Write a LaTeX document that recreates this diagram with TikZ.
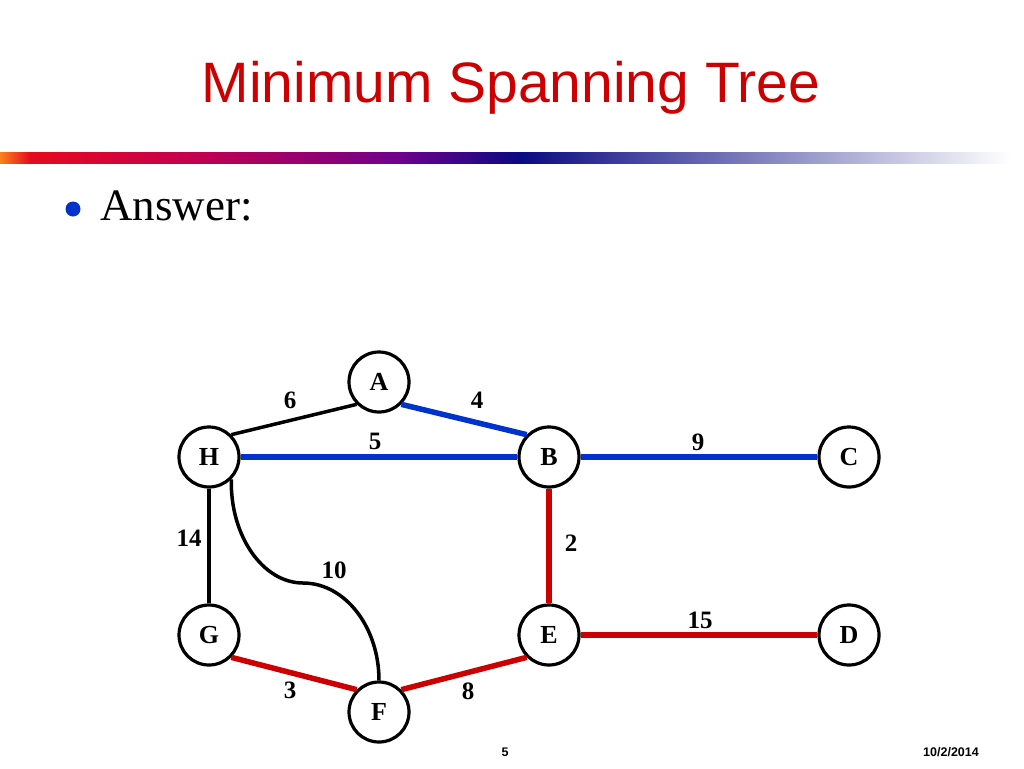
\documentclass[tikz,border=0pt]{standalone}
\usepackage{fontspec}
\setmainfont{Liberation Serif}
\newfontfamily\titlefont{Liberation Sans}
\definecolor{mstred}{RGB}{204,0,0}
\definecolor{mstblue}{RGB}{0,51,204}
\definecolor{barorange}{RGB}{250,130,30}
\definecolor{barred}{RGB}{230,10,30}
\definecolor{barcrimson}{RGB}{200,0,75}
\definecolor{barpurple}{RGB}{110,0,140}
\definecolor{barnavy}{RGB}{10,10,130}
\tikzset{
  vertex/.style={circle,draw,line width=3.2pt,minimum size=60pt,inner sep=0pt,font=\fontsize{26}{26}\selectfont\bfseries},
  weight/.style={inner sep=0pt,font=\fontsize{25}{25}\selectfont\bfseries},
  plain/.style={black,line width=3.5pt},
  treeblue/.style={mstblue,line width=5.5pt},
  treered/.style={mstred,line width=5.5pt}
}
\begin{document}
\begin{tikzpicture}[x=1pt,y=-1pt]
    \fill[white] (0,0) rectangle (1024,768);
    \useasboundingbox (0,0) rectangle (1024,768);
    % title and bar
    \node[anchor=base,inner sep=0pt,text=mstred,font=\titlefont\fontsize{57}{60}\selectfont] (title) at (511,102) {Minimum Spanning Tree};
    \shade[left color=barorange,right color=barred] (0,152) rectangle (30,163);
    \shade[left color=barred,right color=barcrimson] (30,152) rectangle (180,163);
    \shade[left color=barcrimson,right color=barpurple] (180,152) rectangle (400,163);
    \shade[left color=barpurple,right color=barnavy] (400,152) rectangle (520,163);
    \shade[left color=barnavy,right color=white] (520,152) rectangle (1010,163);
    % bullet
    \fill[mstblue] (73,209) circle (7.5pt);
    \node[anchor=base west,inner sep=0pt,font=\fontsize{45}{50}\selectfont] (answer) at (100,220) {Answer:};
    % vertices
    \node[vertex] (A) at (379,382) {A};
    \node[vertex] (H) at (209,457) {H};
    \node[vertex] (B) at (549,457) {B};
    \node[vertex] (C) at (849,457) {C};
    \node[vertex] (G) at (209,635) {G};
    \node[vertex] (E) at (549,635) {E};
    \node[vertex] (D) at (849,635) {D};
    \node[vertex] (F) at (379,712) {F};
    \coordinate (bend) at (303,583);
    % edges
    \draw[plain] (H.north east) -- (A.south west);
    \draw[plain] (H.south) -- (G.north);
    \draw[plain] (H.south east) .. controls (230,536) and (263,583) .. (bend)
                 .. controls (345,583) and (379,627) .. (F.north);
    \draw[treeblue] (A.south east) -- (B.north west);
    \draw[treeblue] (H.east) -- (B.west);
    \draw[treeblue] (B.east) -- (C.west);
    \draw[treered] (B.south) -- (E.north);
    \draw[treered] (E.east) -- (D.west);
    \draw[treered] (G.south east) -- (F.north west);
    \draw[treered] (F.north east) -- (E.south west);
    % weights
    \node[weight] (w6) at (290,400) {6};
    \node[weight] (w4) at (477,400) {4};
    \node[weight] (w5) at (375,441) {5};
    \node[weight] (w9) at (698,442) {9};
    \node[weight] (w14) at (189,538) {14};
    \node[weight] (w2) at (571,543) {2};
    \node[weight] (w10) at (334,570) {10};
    \node[weight] (w15) at (700,620) {15};
    \node[weight] (w3) at (290,690) {3};
    \node[weight] (w8) at (468,691) {8};
    % footer
    \node[anchor=base,inner sep=0pt,font=\titlefont\fontsize{12.5}{13}\selectfont\bfseries] (page) at (505,756) {5};
    \node[anchor=base,inner sep=0pt,font=\titlefont\fontsize{12.5}{13}\selectfont\bfseries] (date) at (951,756) {10/2/2014};
  \end{tikzpicture}
\end{document}
